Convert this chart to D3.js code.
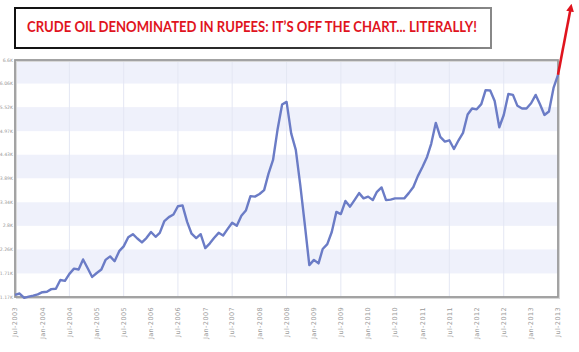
<!DOCTYPE html>
<html>
<head>
<meta charset="utf-8">
<script src="https://cdn.jsdelivr.net/npm/d3@7"></script>
<style>
  body { margin: 0; background: #fff; }
  svg { display: block; }
</style>
</head>
<body>
<div id="chart"></div>
<script>
// monthly crude oil price in rupees (thousands), Jul-2003 .. Jul-2013
const startMonth = "2003-07";
const values = [
    1.22, 1.25, 1.15, 1.18, 1.20, 1.23,
    1.28, 1.29, 1.35, 1.36, 1.56, 1.54, 1.70, 1.82, 1.80, 2.03, 1.83, 1.63,
    1.72, 1.80, 2.02, 2.10, 1.99, 2.22, 2.33, 2.54, 2.61, 2.51, 2.42, 2.52,
    2.66, 2.55, 2.64, 2.91, 3.00, 3.06, 3.25, 3.27, 2.89, 2.62, 2.52, 2.61,
    2.29, 2.40, 2.52, 2.64, 2.58, 2.73, 2.87, 2.80, 3.03, 3.15, 3.48, 3.47,
    3.53, 3.62, 3.99, 4.31, 5.00, 5.58, 5.64, 4.92, 4.54, 3.74, 2.82, 1.90,
    2.02, 1.94, 2.27, 2.38, 2.66, 3.12, 3.07, 3.37, 3.24, 3.39, 3.55, 3.43,
    3.47, 3.39, 3.58, 3.68, 3.39, 3.40, 3.43, 3.43, 3.43, 3.55, 3.69, 3.94,
    4.15, 4.38, 4.68, 5.16, 4.84, 4.73, 4.76, 4.56, 4.76, 4.93, 5.35, 5.49,
    5.47, 5.59, 5.91, 5.90, 5.66, 5.06, 5.34, 5.82, 5.80, 5.55, 5.49, 5.49,
    5.61, 5.80, 5.59, 5.34, 5.42, 5.96, 6.26
];
const yTicks = [1.17, 1.71, 2.26, 2.8, 3.34, 3.89, 4.43, 4.97, 5.52, 6.06, 6.6];
const yTickLabels = ["1.17K", "1.71K", "2.26K", "2.8K", "3.34K", "3.89K", "4.43K", "4.97K", "5.52K", "6.06K", "6.6K"];
const xDomain = ["2003-07", "2013-07"];
// where the "off the chart" arrow points
const arrowTarget = { date: "2013-09-25", value: 7.8 };
const title = "CRUDE OIL DENOMINATED IN RUPEES: IT\u2019S OFF THE CHART... LITERALLY!";

const width = 579, height = 352;
const margin = { left: 15, right: 20, top: 60, bottom: 55 };

const parseMonth = d3.timeParse("%Y-%m");
const start = parseMonth(startMonth);
const data = values.map((v, i) => ({ date: d3.timeMonth.offset(start, i), value: v }));

const svg = d3.select("#chart")
    .append("svg")
    .attr("width", width)
    .attr("height", height);

const x = d3.scaleTime()
    .domain(xDomain.map(parseMonth))
    .range([margin.left, width - margin.right - 1]);

const y = d3.scaleLinear()
    .domain([yTicks[0], yTicks[yTicks.length - 1]])
    .range([height - margin.bottom, margin.top]);

const defs = svg.append("defs");
const grad = defs.append("linearGradient").attr("id", "boxStroke")
    .attr("x1", "0").attr("x2", "1").attr("y1", "0").attr("y2", "0");
grad.append("stop").attr("offset", "0").attr("stop-color", "#111");
grad.append("stop").attr("offset", "0.6").attr("stop-color", "#333");
grad.append("stop").attr("offset", "1").attr("stop-color", "#888");

defs.append("marker")
    .attr("id", "arrowHead")
    .attr("viewBox", "0 0 10 10")
    .attr("refX", 5).attr("refY", 5)
    .attr("markerWidth", 3).attr("markerHeight", 3)
    .attr("orient", "auto")
    .append("path")
    .attr("d", "M0,0 L10,5 L0,10 z")
    .attr("fill", "#e0141e");

// alternating bands
for (let i = 1; i < yTicks.length - 1; i += 2) {
    svg.append("rect")
        .attr("x", x.range()[0])
        .attr("y", y(yTicks[i + 1]))
        .attr("width", x.range()[1] - x.range()[0])
        .attr("height", y(yTicks[i]) - y(yTicks[i + 1]))
        .attr("fill", "#eff1fb");
}

// vertical grid on July ticks
const julTicks = x.ticks(d3.timeMonth.every(6)).filter(d => d.getMonth() === 6);
svg.append("g")
    .selectAll("line")
    .data(julTicks.slice(1, -1))
    .join("line")
    .attr("x1", d => x(d)).attr("x2", d => x(d))
    .attr("y1", y.range()[1]).attr("y2", y.range()[0])
    .attr("stroke", "#e4e7f3")
    .attr("stroke-width", 1);

// frame
svg.append("rect")
    .attr("x", x.range()[0] + 1.5)
    .attr("y", y.range()[1] + 1.5)
    .attr("width", x.range()[1] - x.range()[0])
    .attr("height", y.range()[0] - y.range()[1])
    .attr("fill", "none")
    .attr("stroke", "#d8d8d8")
    .attr("stroke-width", 1);
svg.append("rect")
    .attr("x", x.range()[0])
    .attr("y", y.range()[1])
    .attr("width", x.range()[1] - x.range()[0])
    .attr("height", y.range()[0] - y.range()[1])
    .attr("fill", "none")
    .attr("stroke", "#9a9a9a")
    .attr("stroke-width", 1.8);

// y labels
svg.append("g")
    .selectAll("text")
    .data(yTicks)
    .join("text")
    .attr("x", margin.left - 2)
    .attr("y", d => y(d))
    .attr("dy", "0.35em")
    .attr("text-anchor", "end")
    .attr("font-family", "DejaVu Sans, sans-serif")
    .attr("font-size", 4.6)
    .attr("fill", "#999")
    .text((d, i) => yTickLabels[i]);

// x labels
const fmt = d3.timeFormat("%b-%Y");
svg.append("g")
    .selectAll("text")
    .data(x.ticks(d3.timeMonth.every(6)))
    .join("text")
    .attr("transform", d => `translate(${x(d)}, ${y.range()[0] + 10}) rotate(-90)`)
    .attr("dy", "0.35em")
    .attr("text-anchor", "end")
    .attr("font-family", "DejaVu Sans, sans-serif")
    .attr("font-size", 6.5)
    .attr("letter-spacing", 0.4)
    .attr("fill", "#9a9a9a")
    .text(d => fmt(d));

// price line
svg.append("path")
    .datum(data)
    .attr("fill", "none")
    .attr("stroke", "#6b7cc6")
    .attr("stroke-width", 2.4)
    .attr("stroke-linejoin", "round")
    .attr("d", d3.line()
        .x(d => x(d.date))
        .y(d => y(d.value)));

// red arrow off the chart
const last = data[data.length - 1];
svg.append("line")
    .attr("x1", x(last.date))
    .attr("y1", y(last.value))
    .attr("x2", x(d3.timeParse("%Y-%m-%d")(arrowTarget.date)))
    .attr("y2", y(arrowTarget.value))
    .attr("stroke", "#e0141e")
    .attr("stroke-width", 2.6)
    .attr("marker-end", "url(#arrowHead)");

// title box
svg.append("rect")
    .attr("x", 15).attr("y", 8)
    .attr("width", 476).attr("height", 40)
    .attr("fill", "#fff")
    .attr("stroke", "url(#boxStroke)")
    .attr("stroke-width", 2);

svg.append("text")
    .attr("x", 252)
    .attr("y", 32)
    .attr("text-anchor", "middle")
    .attr("font-family", "Lato, sans-serif")
    .attr("font-weight", "bold")
    .attr("font-size", 15)
    .attr("textLength", 450)
    .attr("lengthAdjust", "spacingAndGlyphs")
    .attr("fill", "#e0141e")
    .text(title);
</script>
</body>
</html>
